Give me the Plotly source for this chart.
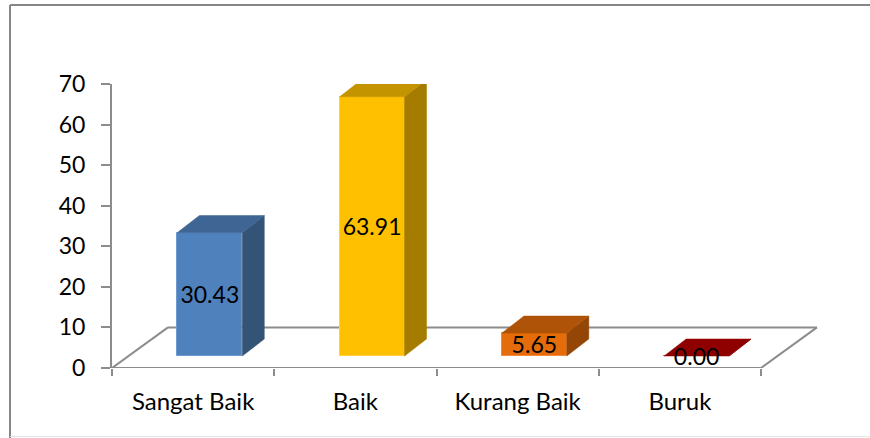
import plotly.graph_objects as go

categories = ["Sangat Baik", "Baik", "Kurang Baik", "Buruk"]
values = [30.43, 63.91, 5.65, 0.00]
value_labels = ["30.43", "63.91", "5.65", "0.00"]
y_ticks = [0, 10, 20, 30, 40, 50, 60, 70]

front_colors = ["#4F81BD", "#FFC000", "#E46C0A", "#990000"]
edge_colors = ["#6F9AD0", "#FFD040", "#F58A3A", "#C04040"]
top_colors = ["#3F6594", "#C49300", "#AE5307", "#8F0000"]
side_colors = ["#335377", "#A67C00", "#934606", "#7A0000"]

W, H = 870, 438
ML, MR, MT, MB = 112, 48, 84, 70
UNIT = 162.25
XMAX = (W - MR - ML) / UNIT
FLOOR_DX, FLOOR_DY = 0.345, 10.0
BAR_W, BAR_SHIFT, BAR_BASE = 0.40, 0.103, 2.95
DEPTH_X, DEPTH_Y = 0.1356, 4.2
LABEL_DROP = 0.7
AXIS = "#8C8C8C"
FONT = "Lato"


def px(x):
    return (x - ML) / (W - ML - MR)


def py(y):
    return 1 - (y - MT) / (H - MT - MB)


centers = [i + 0.5 + BAR_SHIFT for i in range(len(categories))]
fig = go.Figure()

fig.add_trace(go.Bar(
    x=centers, y=values, base=BAR_BASE, width=BAR_W,
    marker=dict(color=front_colors, line=dict(color=edge_colors, width=1)),
    showlegend=False, hoverinfo="skip",
))

for c, v, ct, cs in zip(centers, values, top_colors, side_colors):
    l, r, b, t = c - BAR_W / 2, c + BAR_W / 2, BAR_BASE, BAR_BASE + v
    fig.add_trace(go.Scatter(
        x=[r, r + DEPTH_X, r + DEPTH_X, r, r], y=[b, b + DEPTH_Y, t + DEPTH_Y, t, b],
        mode="lines", fill="toself", fillcolor=cs, line=dict(color=cs, width=0.5),
        showlegend=False, hoverinfo="skip",
    ))
    fig.add_trace(go.Scatter(
        x=[l, r, r + DEPTH_X, l + DEPTH_X, l], y=[t, t, t + DEPTH_Y, t + DEPTH_Y, t],
        mode="lines", fill="toself", fillcolor=ct, line=dict(color=ct, width=0.5),
        showlegend=False, hoverinfo="skip",
    ))

fig.add_trace(go.Scatter(
    x=centers, y=[BAR_BASE + v / 2 - LABEL_DROP for v in values], text=value_labels,
    mode="text", textposition="middle center",
    textfont=dict(family=FONT, size=23, color="#000000"),
    showlegend=False, hoverinfo="skip", cliponaxis=False,
))

n = len(categories)
floor_line = dict(color=AXIS, width=2)
fig.add_shape(type="line", xref="x", yref="y", x0=0, y0=0, x1=n, y1=0, line=floor_line, layer="below")
fig.add_shape(type="line", xref="x", yref="y", x0=FLOOR_DX, y0=FLOOR_DY, x1=n + FLOOR_DX, y1=FLOOR_DY, line=floor_line, layer="below")
fig.add_shape(type="line", xref="x", yref="y", x0=0, y0=0, x1=FLOOR_DX, y1=FLOOR_DY, line=floor_line, layer="below")
fig.add_shape(type="line", xref="x", yref="y", x0=n, y0=0, x1=n + FLOOR_DX, y1=FLOOR_DY, line=floor_line, layer="below")

fig.add_shape(type="line", xref="paper", yref="paper", x0=px(10), y0=py(5), x1=px(870), y1=py(5), line=dict(color="#868686", width=2))
fig.add_shape(type="line", xref="paper", yref="paper", x0=px(10), y0=py(5), x1=px(10), y1=py(438), line=dict(color="#868686", width=2))
fig.add_shape(type="line", xref="paper", yref="paper", x0=px(10), y0=py(436.5), x1=px(870), y1=py(436.5), line=dict(color="#E4E4E4", width=1))

fig.update_layout(
    width=W, height=H, margin=dict(l=ML, r=MR, t=MT, b=MB),
    paper_bgcolor="white", plot_bgcolor="white", showlegend=False,
    bargap=0,
    xaxis=dict(
        range=[0, XMAX], tickmode="array",
        tickvals=[i + 0.5 for i in range(n)], ticktext=categories,
        ticks="outside", ticklen=12, tickcolor="rgba(0,0,0,0)", tickwidth=1,
        minor=dict(ticks="outside", ticklen=7, tickcolor=AXIS, tickwidth=1.5, tick0=0, dtick=1, showgrid=False),
        showgrid=False, zeroline=False, showline=False,
        tickfont=dict(family=FONT, size=24, color="#000000"),
    ),
    yaxis=dict(
        range=[0, 70], tickmode="array", tickvals=y_ticks,
        ticks="outside", ticklen=9, tickcolor=AXIS, tickwidth=1.5,
        ticklabelstandoff=11,
        showgrid=False, zeroline=False, showline=True, linecolor=AXIS, linewidth=2,
        tickfont=dict(family=FONT, size=23, color="#000000"),
    ),
)

fig.write_html("out.html", config=dict(displayModeBar=False), post_script="document.body.style.margin='0';")
